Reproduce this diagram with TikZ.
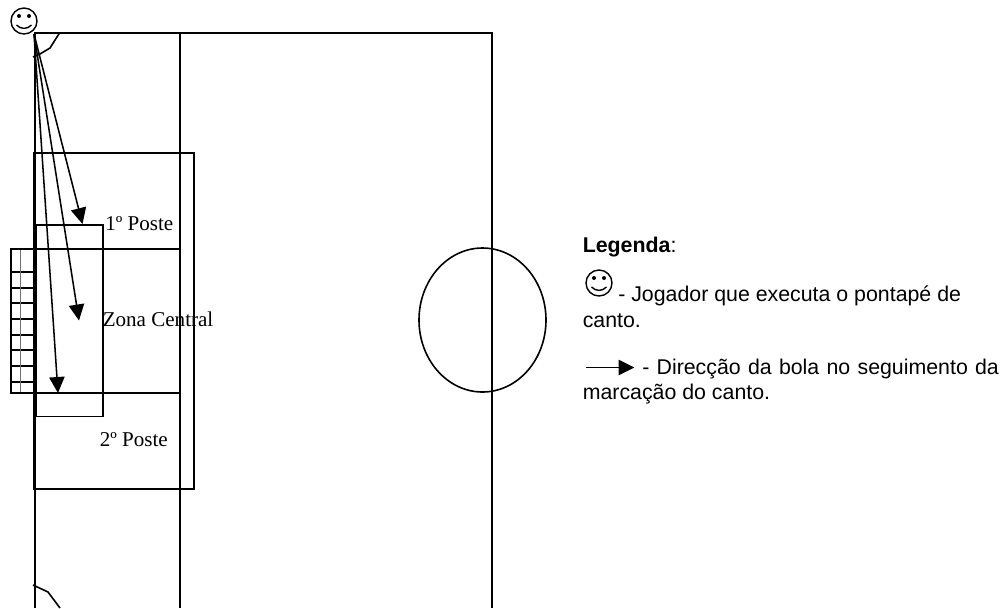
\documentclass[tikz,border=0pt]{standalone}
\usepackage{fontspec}
\setmainfont{Liberation Serif}
\setsansfont{Liberation Sans}
\usetikzlibrary{arrows.meta}
\tikzset{
  ln/.style={draw=black,line width=1.2pt},
  net/.style={draw=black,line width=0.9pt},
  netv/.style={draw=black!55,line width=1.3pt},
  shot/.style={draw=black,line width=1.15pt,-{Triangle[length=12pt,width=11.5pt]}},
  lab/.style={inner sep=0pt,anchor=base west,font=\rmfamily\fontsize{15.8pt}{18pt}\selectfont},
  leg/.style={inner sep=0pt,anchor=base west,font=\sffamily\fontsize{16pt}{19pt}\selectfont},
  smile/.pic={
    \draw[line width=1.05pt] (0,0) circle[radius=13];
    \fill (-5,-5) circle[radius=2];
    \fill (5,-5) circle[radius=2];
    \draw[line width=1.05pt] (-7.5,4) .. controls (-3,8.5) and (3,8.5) .. (7.5,4);
  }
}
\begin{document}
\begin{tikzpicture}[x=0.75pt,y=-0.75pt]
\useasboundingbox (0,0) rectangle (1002,608);
% field
\coordinate (tl) at (34.7,33);
\coordinate (tm) at (180,33);
\coordinate (tr) at (492,33);
\coordinate (bl) at (34.7,608);
\coordinate (bm) at (180,608);
\coordinate (br) at (492,608);
\draw[ln] (bl) -- (tl) -- (tr) -- (br);
\draw[ln] (tm) -- (bm);
% centre circle
\draw[ln] (482.5,320) ellipse[x radius=63.5,y radius=72];
% corner marks
\draw[ln] (33,57) -- (40,54) -- (50,48) -- (59.5,33);
\draw[ln] (33,585) -- (48,592) -- (60,608);
% penalty area
\draw[ln] (34,153) rectangle (194,489);
\draw[ln] (34,249) -- (180,249);
\draw[ln] (34,393) -- (180,393);
% narrow zone
\draw[ln] (35,225) rectangle (103,416.5);
\draw[draw=black,line width=1.9pt] (35.7,225) -- (35.7,416.5);
% goal
\foreach \yy in {272,288,303,319,335,350,366,382}
  \draw[net] (11,\yy) -- (35,\yy);
\draw[netv] (20.5,249) -- (20.5,393);
\draw[ln] (35,249) -- (11,249) -- (11,393) -- (35,393);
% player
\pic at (24,21) {smile};
\coordinate (p) at (34,34);
% shots
\coordinate (s1) at (82.5,224);
\coordinate (s2) at (79,320.5);
\coordinate (s3) at (58,393);
\draw[shot] (p) -- (s1);
\draw[shot] (p) -- (s2);
\draw[shot] (p) -- (s3);
% labels
\node[lab] (a) at (105,230) {1º Poste};
\node[lab] (b) at (102.5,326) {Zona Central};
\node[lab] (c) at (99.5,446) {2º Poste};
% legend
\node[leg] (l1) at (582.5,252) {\textbf{Legenda}:};
\pic at (599,283) {smile};
\node[leg] (l2) at (618,301) {- Jogador que executa o pontapé de};
\node[leg] (l3) at (582.5,327) {canto.};
\coordinate (la) at (586,367.5);
\coordinate (lb) at (634.5,367.5);
\draw[shot] (la) -- (lb);
\node[leg] (l4) at (642,374) {\spaceskip=\dimexpr\fontdimen2\font+1pt\relax - Direcção da bola no seguimento da};
\node[leg] (l5) at (582.5,399) {marcação do canto.};
\end{tikzpicture}
\end{document}
